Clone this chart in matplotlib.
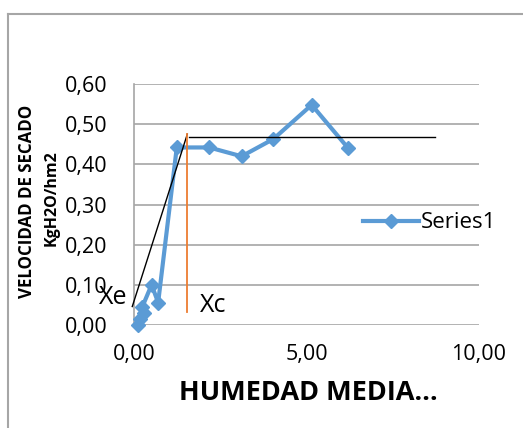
import matplotlib
matplotlib.use("Agg")
import matplotlib.pyplot as plt
from matplotlib.lines import Line2D

# Data
humedad = [6.21, 5.15, 4.04, 3.12, 2.18, 1.24, 0.70, 0.51, 0.24, 0.30, 0.18, 0.12]
velocidad = [0.44, 0.548, 0.463, 0.42, 0.442, 0.442, 0.056, 0.10, 0.045, 0.03, 0.015, 0.00]
tangent_x = [-0.05, 1.545]
tangent_y = [0.046, 0.475]
plateau_x = [1.60, 8.72]
plateau_y = [0.468, 0.468]
xc_x = [1.53, 1.53]
xc_y = [0.033, 0.475]
xticks = [0, 5, 10]
xtick_labels = ["0,00", "5,00", "10,00"]
yticks = [0.0, 0.1, 0.2, 0.3, 0.4, 0.5, 0.6]
ytick_labels = ["0,00", "0,10", "0,20", "0,30", "0,40", "0,50", "0,60"]

W, H = 523, 428
plt.rcParams['font.family'] = ['Open Sans', 'DejaVu Sans']
fig = plt.figure(figsize=(W / 100, H / 100), dpi=100)

def fx(px):
    return px / W

def fy(py):
    return 1 - py / H

ax = fig.add_axes([fx(134), fy(325), fx(479) - fx(134), fy(84) - fy(325)])
ax.set_xlim(0, 10)
ax.set_ylim(0, 0.6)

grid_c = '#A6A6A6'
for y in yticks:
    ax.axhline(y, color=grid_c, lw=1.2, zorder=0)
for s in ['top', 'right', 'bottom']:
    ax.spines[s].set_visible(False)
ax.spines['left'].set_color(grid_c)
ax.spines['left'].set_linewidth(1.2)

ax.set_xticks(xticks)
ax.set_xticklabels(xtick_labels)
ax.set_yticks(yticks)
ax.set_yticklabels(ytick_labels)
ax.tick_params(length=0, labelsize=15.5)
ax.tick_params(axis='y', pad=19)
ax.tick_params(axis='x', pad=14)

ax.plot(humedad, velocidad, color='#5B9BD5', lw=3, marker='D', markersize=7.5,
        label='Series1', zorder=3, clip_on=False)

ax.plot(tangent_x, tangent_y, color='black', lw=1, clip_on=False, zorder=4)
ax.plot(plateau_x, plateau_y, color='black', lw=1, clip_on=False, zorder=4)
ax.plot(xc_x, xc_y, color='#ED7D31', lw=1.3, clip_on=False, zorder=4)

fig.text(fx(99), fy(298), 'Xe', fontsize=18, va='center', ha='left')
fig.text(fx(200), fy(305), 'Xc', fontsize=18, va='center', ha='left')

leg = ax.legend(loc='center left', frameon=False, fontsize=16, handlelength=2.5,
                borderaxespad=0, borderpad=0, handletextpad=0.1)
leg.set_bbox_to_anchor((fx(363), fy(223)), transform=fig.transFigure)

fig.text(fx(27), fy(201), 'VELOCIDAD DE SECADO', rotation=90, fontsize=12.2,
         fontweight='bold', ha='center', va='center')
fig.text(fx(52), fy(198), 'KgH2O/hm2', rotation=90, fontsize=11.5,
         fontweight='bold', ha='center', va='center')
fig.text(fx(308), fy(393), 'HUMEDAD MEDIA…', fontsize=19.5, fontweight='bold',
         ha='center', va='center')

fig.add_artist(Line2D([fx(8), 1], [fy(14), fy(14)], color=grid_c, lw=1.5,
                      transform=fig.transFigure))
fig.add_artist(Line2D([fx(8), fx(8)], [fy(14), 0], color=grid_c, lw=1.5,
                      transform=fig.transFigure))

fig.savefig('out.png', dpi=100)
